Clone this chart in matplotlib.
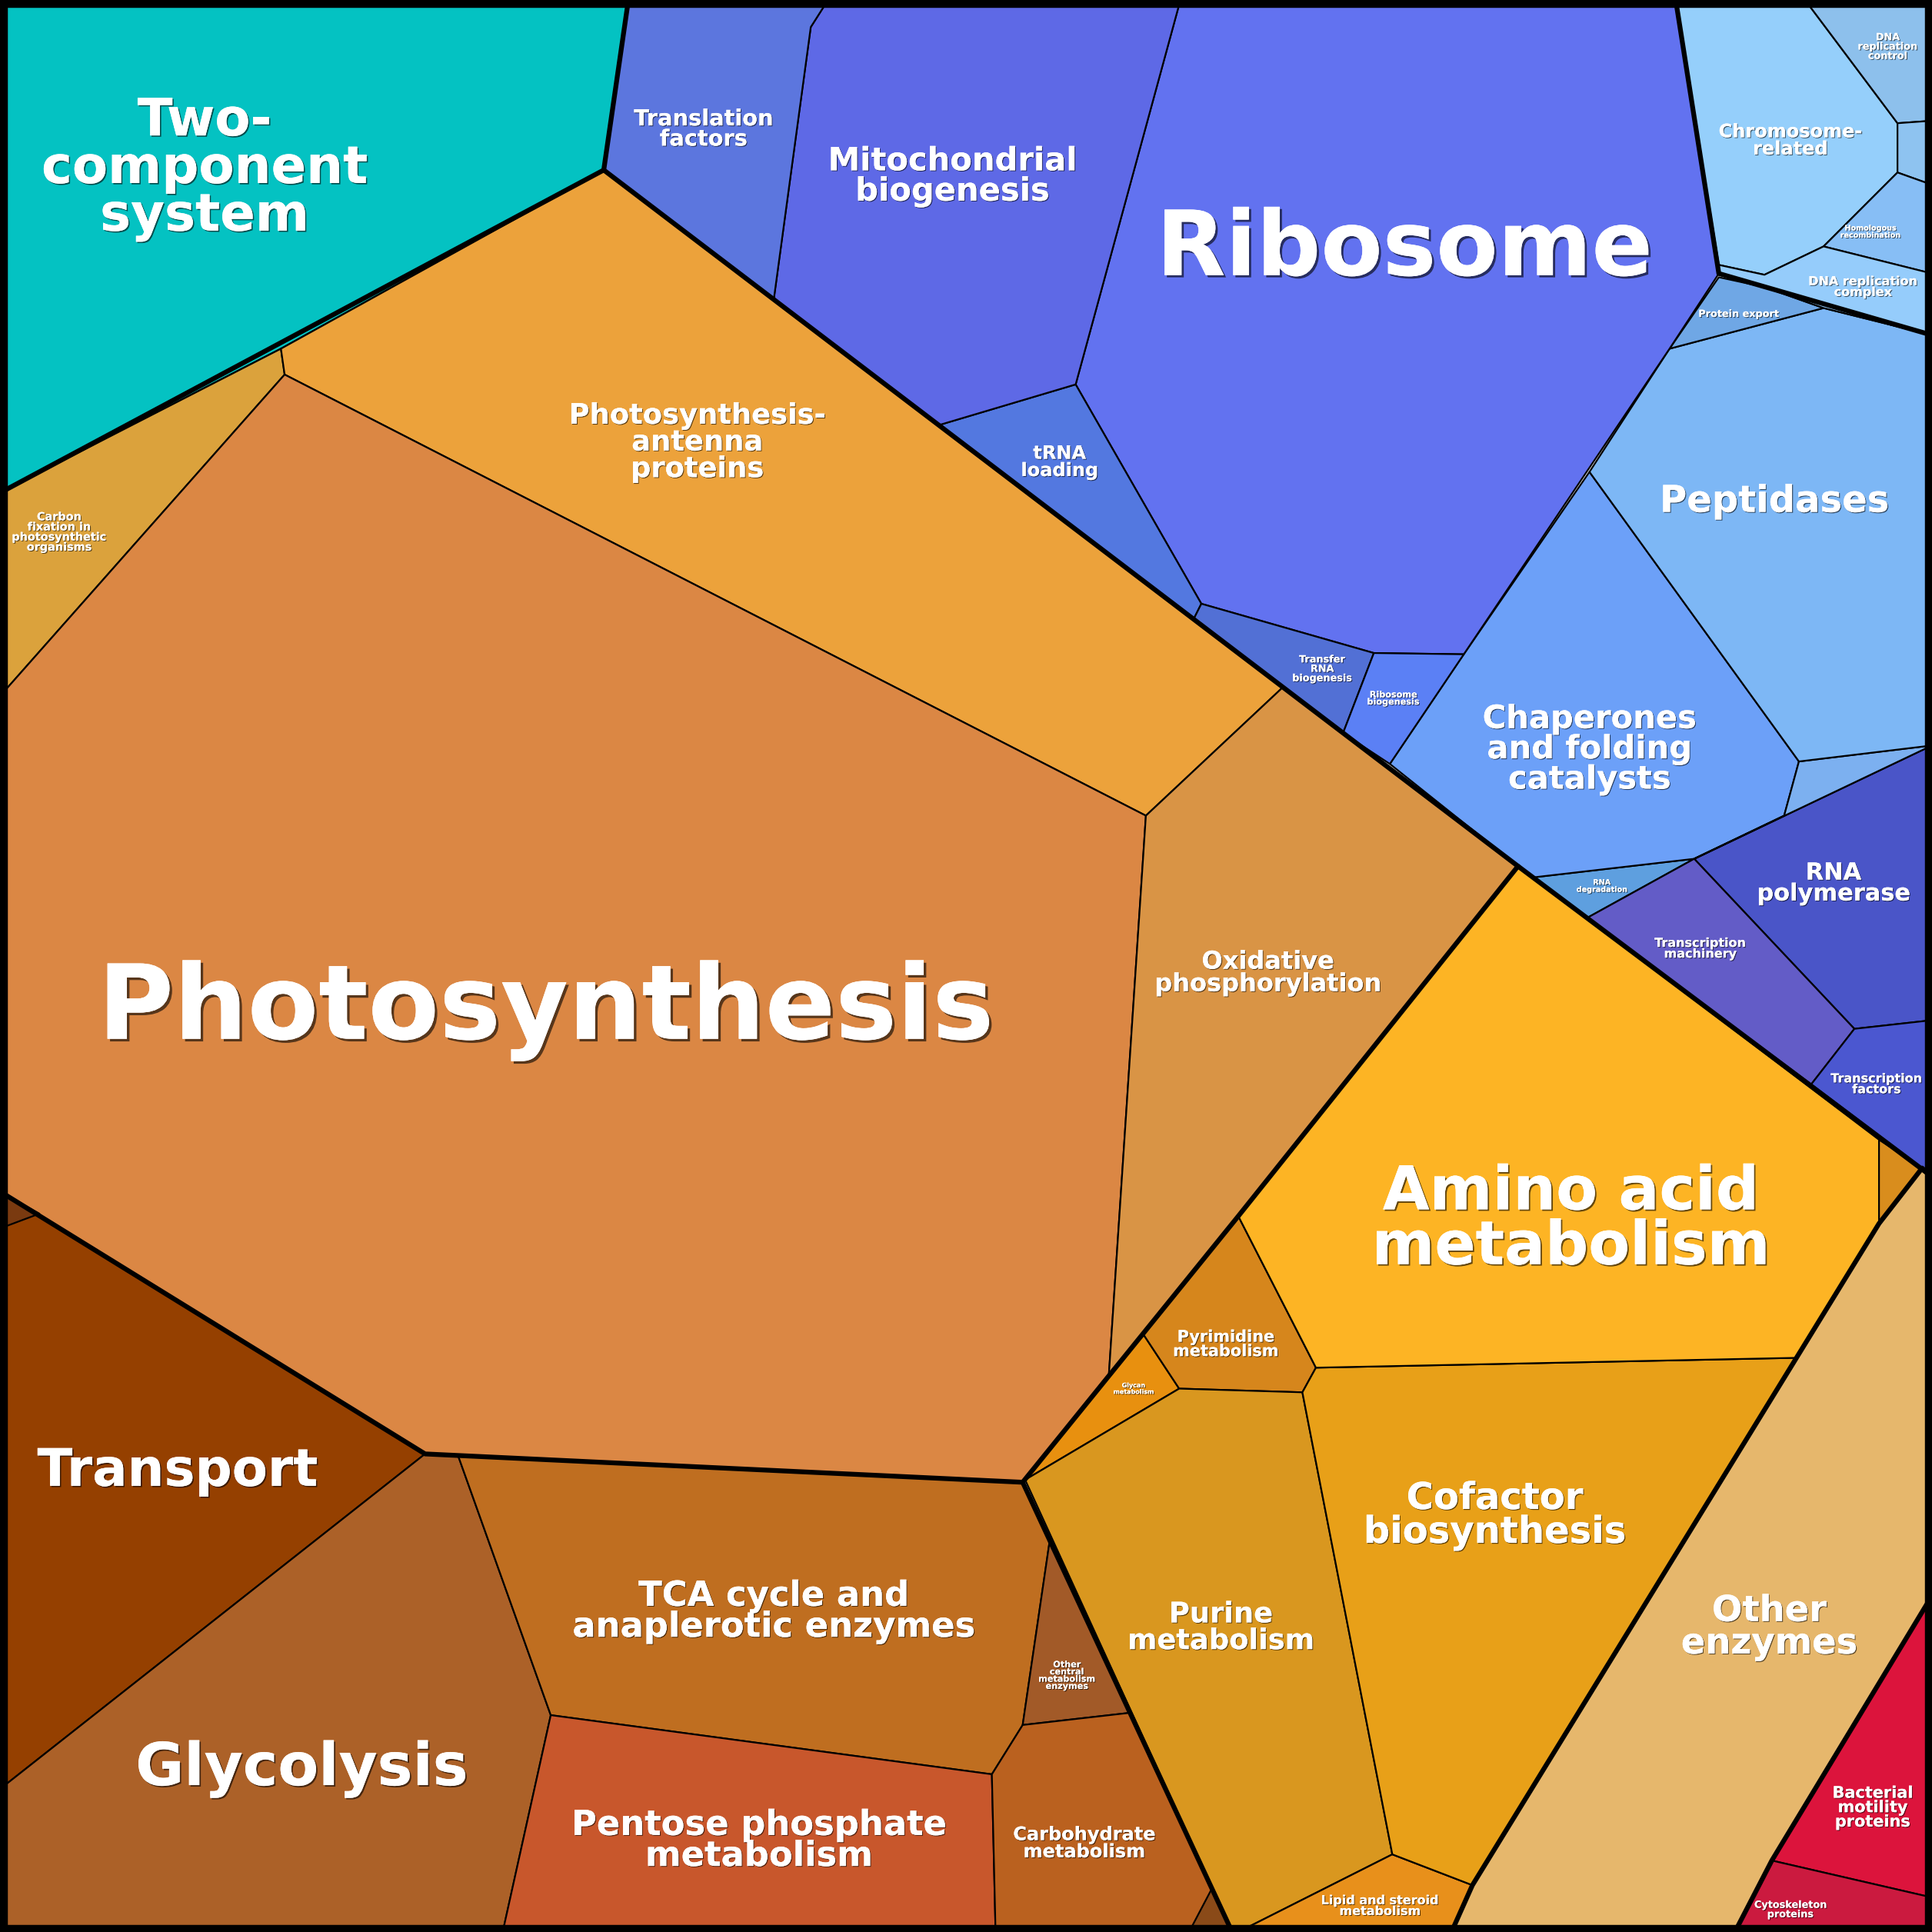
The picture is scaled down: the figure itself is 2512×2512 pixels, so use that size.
import matplotlib
matplotlib.use('Agg')
import matplotlib.pyplot as plt
from matplotlib.patches import Polygon
import matplotlib.patheffects as pe

# cell outlines (0..1568 square, y down)
cells = [
  # name, colour, vertices
  ('Two-component system', '#04c2c2', [(0,0),(510,0),(490,138),(228,283),(0,400)]),
  ('Carbon fixation', '#dba23c', [(0,400),(228,283),(231,304),(0,565)]),
  ('Photosynthesis-antenna', '#eca23b', [(228,283),(490,138),(1042,557),(930,662),(231,304)]),
  ('Photosynthesis', '#db8744', [(0,565),(231,304),(930,662),(900,1115),(830,1203),(345,1180),(0,967)]),
  ('Oxidative', '#d99445', [(930,662),(1042,557),(1232,703),(1005,987),(928,1083),(900,1115)]),
  ('Transport', '#954000', [(0,967),(345,1180),(0,1452)]),
  ('small1', '#7a3a10', [(0,967),(32,985),(0,997)]),
  ('Glycolysis', '#ac6128', [(0,1452),(345,1180),(372,1182),(447,1392),(408,1568),(0,1568)]),
  ('TCA', '#bf6e20', [(372,1182),(830,1203),(852,1250),(830,1400),(805,1440),(447,1392)]),
  ('Pentose', '#c8572c', [(447,1392),(805,1440),(808,1568),(408,1568)]),
  ('Other central', '#a25a28', [(852,1250),(918,1390),(830,1400)]),
  ('Carbohydrate', '#ba611f', [(805,1440),(830,1400),(918,1390),(1000,1568),(808,1568)]),
  ('small2', '#8a4a18', [(965,1568),(985,1530),(1000,1568)]),
  ('Glycan', '#e8900f', [(832,1201),(928,1083),(957,1127)]),
  ('Pyrimidine', '#d6861c', [(928,1083),(1005,987),(1068,1110),(1057,1130),(957,1127)]),
  ('Purine', '#d9971f', [(832,1201),(957,1127),(1057,1130),(1130,1505),(1005,1568),(1000,1568)]),
  ('Lipid', '#e8901b', [(1005,1568),(1130,1505),(1195,1530),(1178,1568)]),
  ('Cofactor', '#e8a018', [(1057,1130),(1068,1110),(1458,1102),(1195,1530),(1130,1505)]),
  ('Amino acid', '#fdb424', [(1005,987),(1232,703),(1525,925),(1525,993),(1458,1102),(1068,1110)]),
  ('small3', '#d98d1d', [(1525,925),(1560,948),(1525,993)]),
  ('Other enzymes', '#e6b76c', [(1458,1102),(1525,993),(1560,948),(1568,948),(1568,1295),(1438,1510),(1408,1568),(1178,1568),(1195,1530)]),
  ('Bacterial motility', '#dc143c', [(1568,1295),(1568,1540),(1438,1510)]),
  ('Cytoskeleton', '#cb1a3f', [(1438,1510),(1568,1540),(1568,1568),(1408,1568)]),
  ('RNA polymerase', '#4a55c8', [(1375,697),(1568,605),(1568,828),(1505,835)]),
  ('RNA degradation', '#5e9fdf', [(1245,712),(1375,697),(1288,745)]),
  ('Transcription machinery', '#635cc7', [(1288,745),(1375,697),(1505,835),(1470,880)]),
  ('Transcription factors', '#4b57d0', [(1470,880),(1505,835),(1568,828),(1568,948),(1560,948)]),
  ('Chaperones', '#6ca0f8', [(1128,620),(1188,531),(1290,383),(1460,618),(1448,662),(1375,697),(1245,712),(1232,703)]),
  ('small4', '#7cb0f0', [(1448,662),(1460,618),(1568,605),(1375,697)]),
  ('Peptidases', '#7db7f5', [(1290,383),(1355,283),(1480,250),(1568,272),(1568,605),(1460,618)]),
  ('Protein export', '#6fa7e5', [(1355,283),(1395,225),(1432,233),(1480,250)]),
  ('Ribosome', '#6272f0', [(873,312),(958,0),(1360,0),(1395,222),(1355,283),(1188,531),(1115,530),(975,490)]),
  ('tRNA loading', '#5378e0', [(762,345),(873,312),(975,490),(969,502)]),
  ('Transfer RNA', '#5270d5', [(969,502),(975,490),(1115,530),(1090,595)]),
  ('Ribosome biogenesis', '#5b80f5', [(1115,530),(1188,531),(1128,620),(1090,595)]),
  ('Mitochondrial', '#5e69e6', [(628,243),(658,22),(672,0),(958,0),(873,312),(762,345)]),
  ('Translation factors', '#5c76de', [(490,138),(510,0),(672,0),(658,22),(628,243)]),
  ('Chromosome', '#95cffb', [(1360,0),(1465,0),(1540,100),(1540,140),(1480,200),(1432,223),(1395,215)]),
  ('DNA replication control', '#8dc0ec', [(1465,0),(1568,0),(1568,98),(1540,100)]),
  ('small5', '#8ec3f0', [(1540,100),(1568,98),(1568,150),(1540,140)]),
  ('Homologous', '#87bef5', [(1480,200),(1540,140),(1568,150),(1568,222)]),
  ('DNA replication complex', '#95ccfb', [(1395,215),(1432,223),(1480,200),(1568,222),(1568,272),(1480,250),(1432,233),(1395,222)]),
]

# top-level group borders
thick_lines = [
  [(0,400),(490,138),(510,0)],
  [(490,138),(1232,703),(1568,955)],
  [(0,967),(345,1180),(830,1203),(1005,987),(1232,703)],
  [(830,1203),(1000,1568)],
  [(1178,1568),(1195,1530),(1458,1102),(1525,993),(1560,948)],
  [(1408,1568),(1438,1510),(1568,1295)],
  [(1360,0),(1395,222),(1568,272)],
]

# labels: text, x, y, size (em in picture px)
labels = [
  ('Photosynthesis', 443, 820, 84),
  ('Ribosome', 1140, 203, 73),
  ('Amino acid\nmetabolism', 1275, 990, 49),
  ('Two-\ncomponent\nsystem', 166, 137, 42),
  ('Transport', 144, 1194, 42),
  ('Glycolysis', 245, 1436, 48),
  ('Mitochondrial\nbiogenesis', 773, 143, 26),
  ('Translation\nfactors', 571, 105, 18),
  ('tRNA\nloading', 860, 375, 15),
  ('Photosynthesis-\nantenna\nproteins', 566, 359, 23),
  ('Oxidative\nphosphorylation', 1029, 790, 20),
  ('TCA cycle and\nanaplerotic enzymes', 628, 1308, 28),
  ('Pentose phosphate\nmetabolism', 616, 1494, 28),
  ('Purine\nmetabolism', 991, 1321, 23),
  ('Cofactor\nbiosynthesis', 1213, 1230, 30),
  ('Other\nenzymes', 1436, 1321, 29),
  ('Peptidases', 1440, 407, 30),
  ('Chaperones\nand folding\ncatalysts', 1290, 608, 26),
  ('RNA\npolymerase', 1488, 717, 19),
  ('Chromosome-\nrelated', 1453, 114, 15),
  ('Pyrimidine\nmetabolism', 995, 1091, 13),
  ('Carbohydrate\nmetabolism', 880, 1496, 15),
  ('Bacterial\nmotility\nproteins', 1520, 1467, 13),
  ('Lipid and steroid\nmetabolism', 1120, 1547, 10),
  ('Cytoskeleton\nproteins', 1453, 1550, 8),
  ('Transcription\nmachinery', 1380, 770, 10),
  ('Transcription\nfactors', 1523, 880, 10),
  ('Other\ncentral\nmetabolism\nenzymes', 866, 1360, 7),
  ('Carbon\nfixation in\nphotosynthetic\norganisms', 48, 432, 9),
  ('Transfer\nRNA\nbiogenesis', 1073, 543, 8),
  ('Ribosome\nbiogenesis', 1131, 567, 7),
  ('Protein export', 1411, 255, 8),
  ('DNA replication\ncomplex', 1512, 233, 10),
  ('DNA\nreplication\ncontrol', 1532, 38, 8),
  ('Homologous\nrecombination', 1518, 188, 6),
  ('RNA\ndegradation', 1300, 719, 6),
  ('Glycan\nmetabolism', 920, 1127, 5),
]

S = 2512 / 1568.0
fig = plt.figure(figsize=(25.12, 25.12), dpi=100)
ax = fig.add_axes([0, 0, 1, 1])
ax.set_xlim(0, 1568)
ax.set_ylim(1568, 0)
ax.axis('off')

for name, color, pts in cells:
  ax.add_patch(Polygon(pts, closed=True, facecolor=color, edgecolor='black', linewidth=1.6, joinstyle='round'))

for line in thick_lines:
  xs = [p[0] for p in line]
  ys = [p[1] for p in line]
  ax.plot(xs, ys, color='black', linewidth=4.5, solid_joinstyle='round', solid_capstyle='round')

ax.add_patch(Polygon([(0,0),(1568,0),(1568,1568),(0,1568)], closed=True, fill=False, edgecolor='black', linewidth=14))

for text, x, y, size in labels:
  fs = size * S * 0.72
  sh = max(0.8, fs * 0.025)
  ax.text(x, y, text, ha='center', va='center', color='white', fontsize=fs, fontweight='bold',
          linespacing=0.92, family='DejaVu Sans',
          path_effects=[pe.withSimplePatchShadow(offset=(sh, -sh), shadow_rgbFace='black', alpha=0.6), pe.Normal()])

fig.savefig('out.png', dpi=100)
